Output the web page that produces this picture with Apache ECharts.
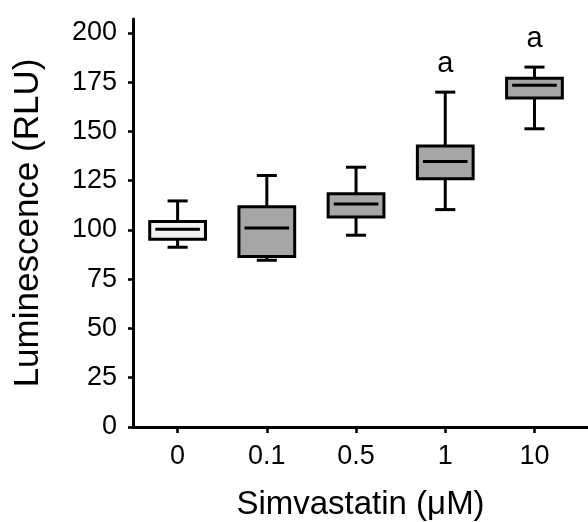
<!DOCTYPE html>
<html>
<head>
<meta charset="utf-8">
<script src="https://cdn.jsdelivr.net/npm/echarts@6/dist/echarts.min.js"></script>
<style>
html,body{margin:0;padding:0;background:#fff;}
#chart{width:588px;height:522px;}
</style>
</head>
<body>
<div id="chart"></div>
<script>
const categories = ['0', '0.1', '0.5', '1', '10'];
const whiskerLow  = [91.2, 84.6, 97.3, 110.3, 151.3];
const quartile1   = [95.3, 86.5, 106.6, 125.9, 166.9];
const medians     = [100.3, 101.0, 113.2, 134.7, 173.4];
const quartile3   = [104.2, 111.7, 118.4, 142.6, 177.0];
const whiskerHigh = [114.7, 127.6, 131.8, 169.9, 182.6];
const sigLabels   = ['', '', '', 'a', 'a'];
const yTicks      = [0, 25, 50, 75, 100, 125, 150, 175, 200];
const xTicks      = [0, 1, 2, 3, 4];

const controlFill = '#f2f2f2';
const treatFill = '#a6a6a6';
const FONT = 'Liberation Sans, Arial, sans-serif';

const data = categories.map((c, i) => [i, whiskerLow[i], quartile1[i], medians[i], quartile3[i], whiskerHigh[i]]);

const chart = echarts.init(document.getElementById('chart'), null, {renderer: 'canvas'});

function renderItem(params, api) {
  const x = api.value(0);
  const idx = params.dataIndex;
  const pLo = api.coord([x, api.value(1)]);
  const pQ1 = api.coord([x, api.value(2)]);
  const pMed = api.coord([x, api.value(3)]);
  const pQ3 = api.coord([x, api.value(4)]);
  const pHi = api.coord([x, api.value(5)]);
  const boxW = api.size([0.625, 0])[0];
  const capW = api.size([0.225, 0])[0];
  const medW = api.size([0.5, 0])[0];
  const cx = pMed[0];
  const line = {stroke: '#000', lineWidth: 3};
  const children = [
    {type: 'line', shape: {x1: cx, y1: pQ3[1], x2: cx, y2: pHi[1]}, style: line},
    {type: 'line', shape: {x1: cx - capW / 2, y1: pHi[1], x2: cx + capW / 2, y2: pHi[1]}, style: line},
    {type: 'line', shape: {x1: cx, y1: pQ1[1], x2: cx, y2: pLo[1]}, style: line},
    {type: 'line', shape: {x1: cx - capW / 2, y1: pLo[1], x2: cx + capW / 2, y2: pLo[1]}, style: line},
    {type: 'rect', shape: {x: cx - boxW / 2, y: pQ3[1], width: boxW, height: pQ1[1] - pQ3[1]},
      style: {fill: idx === 0 ? controlFill : treatFill, stroke: '#000', lineWidth: 3}},
    {type: 'line', shape: {x1: cx - medW / 2, y1: pMed[1], x2: cx + medW / 2, y2: pMed[1]}, style: line}
  ];
  if (sigLabels[idx]) {
    children.push({type: 'text', x: cx, y: pHi[1] - 28,
      style: {text: sigLabels[idx], fill: '#000', font: '29px ' + FONT, align: 'center', verticalAlign: 'middle'}});
  }
  return {type: 'group', children: children};
}

chart.setOption({
  animation: false,
  backgroundColor: '#fff',
  grid: {left: 133, right: 0, top: 19, bottom: 95, outerBoundsMode: 'none', containLabel: false},
  xAxis: {
    type: 'value', min: -0.5, max: 4.6,
    name: 'Simvastatin (μM)', nameLocation: 'middle', nameGap: 61,
    nameTextStyle: {fontSize: 33, color: '#000', fontFamily: FONT},
    splitLine: {show: false},
    axisLine: {show: true, onZero: false, lineStyle: {color: '#000', width: 3}},
    axisTick: {show: true, length: 6, lineStyle: {color: '#000', width: 2.6}, customValues: xTicks},
    axisLabel: {fontSize: 27, color: '#000', fontFamily: FONT, margin: 16, customValues: xTicks,
      formatter: v => categories[Math.round(v)]}
  },
  yAxis: {
    type: 'value', min: 0, max: 207,
    name: 'Luminescence (RLU)', nameLocation: 'middle', nameGap: 87, nameRotate: 90,
    nameTextStyle: {fontSize: 35, color: '#000', fontFamily: FONT},
    splitLine: {show: false},
    axisLine: {show: true, onZero: false, lineStyle: {color: '#000', width: 3}},
    axisTick: {show: true, length: 5, lineStyle: {color: '#000', width: 2.6}, customValues: yTicks},
    axisLabel: {fontSize: 27, color: '#000', fontFamily: FONT, margin: 16, customValues: yTicks}
  },
  series: [{
    type: 'custom',
    renderItem: renderItem,
    encode: {x: 0, y: [1, 2, 3, 4, 5]},
    data: data,
    clip: false
  }]
});
</script>
</body>
</html>
